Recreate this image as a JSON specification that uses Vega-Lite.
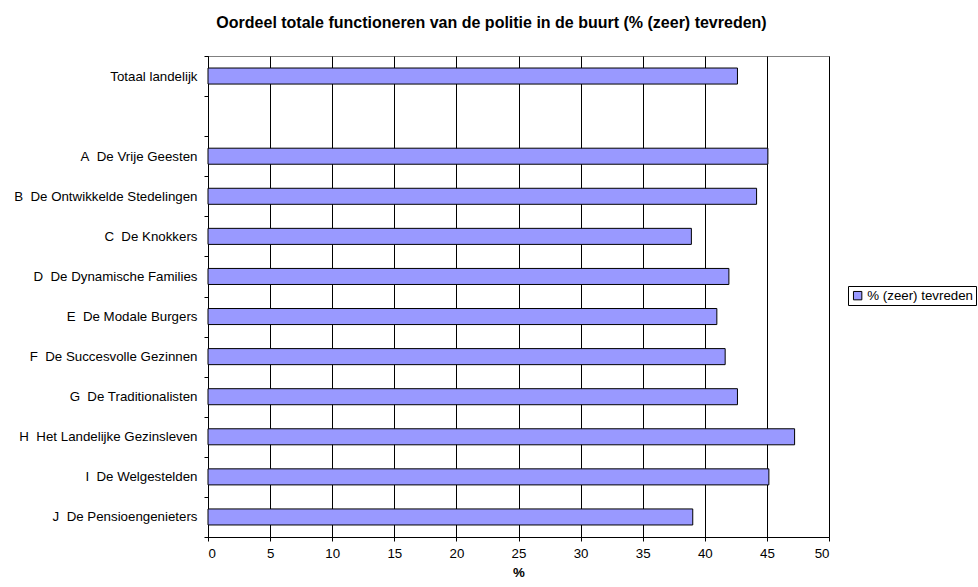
{
  "$schema": "https://vega.github.io/schema/vega-lite/v6.json",
  "width": 621,
  "height": 481,
  "autosize": {"type": "none"},
  "padding": {"left": 208, "top": 56, "right": 149, "bottom": 50},
  "background": "white",
  "title": {
    "text": "Oordeel totale functioneren van de politie in de buurt (% (zeer) tevreden)",
    "font": "Liberation Sans",
    "fontSize": 16,
    "fontWeight": "bold",
    "color": "black",
    "anchor": "middle",
    "dx": -27,
    "offset": 18
  },
  "config": {
    "font": "Liberation Sans",
    "view": {"stroke": "#808080", "strokeWidth": 1}
  },
  "data": {
    "values": [
      {"groep": "Totaal landelijk", "waarde": 42.63, "serie": "% (zeer) tevreden"},
      {"groep": "A\u00a0 De Vrije Geesten", "waarde": 45.08, "serie": "% (zeer) tevreden"},
      {"groep": "B\u00a0 De Ontwikkelde Stedelingen", "waarde": 44.17, "serie": "% (zeer) tevreden"},
      {"groep": "C\u00a0 De Knokkers", "waarde": 38.92, "serie": "% (zeer) tevreden"},
      {"groep": "D\u00a0 De Dynamische Families", "waarde": 41.94, "serie": "% (zeer) tevreden"},
      {"groep": "E\u00a0 De Modale Burgers", "waarde": 40.97, "serie": "% (zeer) tevreden"},
      {"groep": "F\u00a0 De Succesvolle Gezinnen", "waarde": 41.64, "serie": "% (zeer) tevreden"},
      {"groep": "G\u00a0 De Traditionalisten", "waarde": 42.63, "serie": "% (zeer) tevreden"},
      {"groep": "H\u00a0 Het Landelijke Gezinsleven", "waarde": 47.23, "serie": "% (zeer) tevreden"},
      {"groep": "I\u00a0 De Welgestelden", "waarde": 45.16, "serie": "% (zeer) tevreden"},
      {"groep": "J\u00a0 De Pensioengenieters", "waarde": 39.03, "serie": "% (zeer) tevreden"}
    ]
  },
  "mark": {"type": "bar", "stroke": "black", "strokeWidth": 1, "height": {"band": 0.4}},
  "encoding": {
    "y": {
      "field": "groep",
      "type": "nominal",
      "title": null,
      "scale": {
        "domain": [
          "Totaal landelijk",
          " ",
          "A\u00a0 De Vrije Geesten",
          "B\u00a0 De Ontwikkelde Stedelingen",
          "C\u00a0 De Knokkers",
          "D\u00a0 De Dynamische Families",
          "E\u00a0 De Modale Burgers",
          "F\u00a0 De Succesvolle Gezinnen",
          "G\u00a0 De Traditionalisten",
          "H\u00a0 Het Landelijke Gezinsleven",
          "I\u00a0 De Welgestelden",
          "J\u00a0 De Pensioengenieters"
        ],
        "paddingInner": 0,
        "paddingOuter": 0
      },
      "axis": {
        "domainColor": "black",
        "tickColor": "black",
        "tickSize": 4,
        "tickBand": "extent",
        "labelFontSize": 13.3,
        "labelLimit": 300,
        "labelColor": "black",
        "labelPadding": 7
      }
    },
    "x": {
      "field": "waarde",
      "type": "quantitative",
      "title": "%",
      "scale": {"domain": [0, 50], "nice": false},
      "axis": {
        "values": [0, 5, 10, 15, 20, 25, 30, 35, 40, 45, 50],
        "grid": true,
        "gridColor": "black",
        "gridOpacity": 1,
        "domainColor": "black",
        "tickColor": "black",
        "tickSize": 4,
        "labelFontSize": 13.3,
        "labelColor": "black",
        "labelPadding": 5,
        "titleFontSize": 13.3,
        "titleFontWeight": "bold",
        "titleColor": "black",
        "titlePadding": 6
      }
    },
    "color": {
      "field": "serie",
      "type": "nominal",
      "scale": {"range": ["#9999FF"]},
      "legend": {
        "title": null,
        "orient": "none",
        "legendX": 640,
        "legendY": 230,
        "symbolType": "square",
        "symbolSize": 70,
        "symbolStrokeColor": "black",
        "symbolStrokeWidth": 1,
        "labelFontSize": 13.3,
        "labelLimit": 300,
        "labelColor": "black",
        "labelOffset": 3,
        "strokeColor": "black",
        "fillColor": "white",
        "padding": 3
      }
    }
  }
}
